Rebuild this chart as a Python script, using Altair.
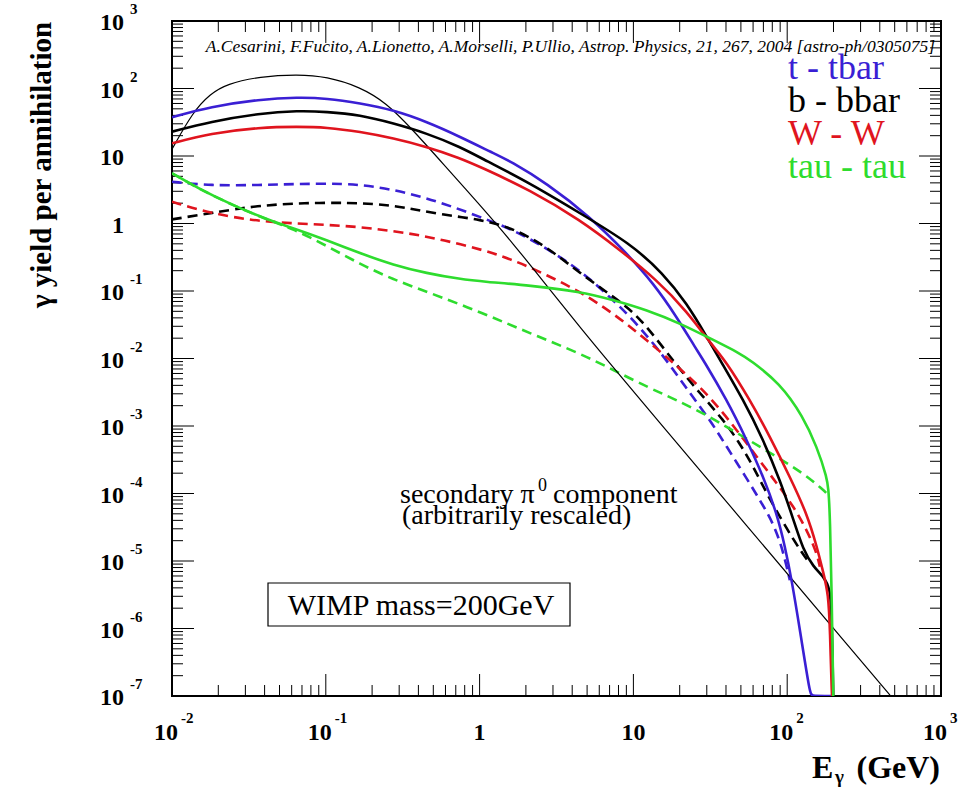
import altair as alt
import pandas as pd

# ---------------------------------------------------------------------------
# Gamma-ray yield per annihilation for a 200 GeV WIMP, E in GeV
# ---------------------------------------------------------------------------
# t - tbar, total and secondary pi0 component
tt_E = [0.01, 0.0177, 0.0373, 0.066, 0.101, 0.167, 0.275, 0.453, 0.746, 1.23, 1.58,
        2.73, 5.22, 9.04, 13.5, 19.1, 25.8, 28.5, 40.5, 54.6, 70.0, 85.5, 96.8, 107,
        121, 141, 145, 200]
tt_y = [37.4, 53.7, 69.2, 74.1, 71.7, 60.4, 48.0, 32.2, 19.3, 11.0, 8.4,
        3.94, 1.26, 0.362, 0.130, 0.0416, 0.0134, 0.0095, 0.00243, 6.2e-4, 1.77e-4,
        5.1e-5, 1.63e-5, 5.2e-6, 9.5e-7, 1.03e-7, 1e-7, 1e-7]
tt_pi_E = [0.01, 0.0177, 0.0373, 0.066, 0.130, 0.214, 0.352, 0.581, 1.01, 1.66, 2.73,
           4.50, 7.40, 11.0, 16.6, 23.3, 31.5, 40.5, 51.9, 66.5, 81.3, 92.1, 99.3, 104]
tt_pi_y = [4.16, 3.63, 3.72, 3.85, 3.94, 3.51, 2.80, 1.99, 1.25, 0.802, 0.429,
           0.205, 0.0736, 0.0296, 0.0092, 0.00305, 0.00123, 4.9e-4, 2.0e-4, 8.0e-5,
           3.6e-5, 1.63e-5, 8.2e-6, 5.2e-6]

# b - bbar
bb_E = [0.01, 0.0177, 0.0373, 0.066, 0.101, 0.167, 0.275, 0.453, 0.746, 1.08, 2.13,
        4.50, 9.51, 15.6, 22.2, 30.0, 36.6, 51.9, 70.0, 89.7, 110, 127, 148, 172,
        190, 194.5, 199.5, 200]
bb_y = [22.9, 32.2, 43.0, 46.9, 45.3, 40.5, 30.5, 21.7, 13.7, 8.73, 3.94,
        1.42, 0.509, 0.183, 0.0658, 0.0210, 0.0095, 0.00243, 6.2e-4, 1.58e-4,
        4.05e-5, 1.46e-5, 8.2e-6, 5.9e-6, 4.0e-6, 1.68e-6, 1.03e-7, 5e-8]
bb_pi_E = [0.01, 0.0177, 0.0373, 0.0916, 0.214, 0.352, 0.581, 1.01, 1.66, 2.73, 4.50,
           7.40, 11.0, 18.6, 27.1, 38.5, 49.3, 60.2, 73.6, 89.7, 110, 134, 141]
bb_pi_y = [1.15, 1.42, 1.88, 2.06, 1.99, 1.68, 1.34, 1.15, 0.849, 0.453, 0.183,
           0.0824, 0.0416, 0.0085, 0.00305, 0.00123, 5.5e-4, 2.5e-4, 1.0e-4, 4.5e-5,
           2.05e-5, 1.04e-5, 9.3e-6]

# W - W
ww_E = [0.01, 0.0177, 0.0373, 0.066, 0.101, 0.167, 0.275, 0.453, 0.746, 1.01, 2.13,
        4.50, 8.18, 14.2, 22.2, 33.1, 39.4, 57.3, 77.3, 104, 134, 156, 172, 185,
        190, 194.5, 200]
ww_y = [15.4, 21.7, 26.6, 27.2, 26.6, 22.9, 18.3, 13.7, 9.3, 6.9, 3.13,
        1.13, 0.405, 0.146, 0.0506, 0.0148, 0.0095, 0.00243, 6.9e-4, 1.77e-4,
        5.1e-5, 1.63e-5, 6.6e-6, 3.3e-6, 9.5e-7, 1.03e-7, 5e-8]
ww_pi_E = [0.01, 0.0177, 0.0373, 0.0789, 0.167, 0.352, 0.581, 1.06, 1.66, 2.73, 4.50,
           7.40, 12.2, 20.6, 31.5, 47.0, 63.4, 85.5, 110, 134, 156, 163]
ww_pi_y = [2.10, 1.42, 1.06, 0.984, 0.898, 0.716, 0.570, 0.405, 0.288, 0.173, 0.0977,
           0.0468, 0.0188, 0.00676, 0.00272, 8.7e-4, 3.5e-4, 1.42e-4, 6.4e-5, 2.9e-5,
           1.3e-5, 8.2e-6]

# tau - tau
tau_E = [0.01, 0.0152, 0.0251, 0.0413, 0.0615, 0.101, 0.167, 0.275, 0.453, 0.746, 1.08,
         2.13, 4.50, 7.40, 12.2, 20.1, 33.1, 49.3, 57.3, 89.7, 127, 156, 181, 190,
         199.5, 200]
tau_y = [5.55, 3.2, 1.85, 1.15, 0.85, 0.57, 0.362, 0.243, 0.183, 0.150, 0.137,
         0.121, 0.0977, 0.0736, 0.0524, 0.0332, 0.0188, 0.0119, 0.0095, 0.0043,
         0.00137, 4.9e-4, 1.77e-4, 9.0e-5, 1.03e-7, 5e-8]
tau_pi_E = [0.01, 0.0152, 0.0251, 0.0413, 0.0615, 0.101, 0.167, 0.275, 0.453, 1.057,
            2.13, 4.50, 7.40, 12.8, 19.1, 31.5, 51.9, 85.5, 127, 172, 181]
tau_pi_y = [5.55, 3.2, 1.85, 1.15, 0.83, 0.47, 0.25, 0.148, 0.0977, 0.0468,
            0.0236, 0.0119, 0.00676, 0.00362, 0.00243, 0.00137, 6.9e-4, 3.5e-4,
            2.0e-4, 1.13e-4, 1.0e-4]

# secondary pi0 component (arbitrarily rescaled)
pi0_E = [0.01, 0.0137, 0.0177, 0.0227, 0.0373, 0.066, 0.101, 0.167, 0.249, 0.352,
         0.581, 1.0, 1.66, 2.73, 4.5, 8.43, 466]
pi0_y = [12.6, 45.3, 83, 117, 151, 162, 150, 106, 60.4, 27.2,
         7.6, 1.9, 0.50, 0.12, 0.029, 0.0051, 1.03e-7]

channels = ["tt", "bb", "ww", "tau"]
legend_labels = ["t - tbar", "b - bbar", "W - W", "tau - tau"]

# tick values and labels
x_major = [1e-2, 1e-1, 1, 10, 100, 1000]
y_major = [1e-7, 1e-6, 1e-5, 1e-4, 1e-3, 1e-2, 1e-1, 1, 10, 100, 1000]
x_minor = [m * 10.0 ** p for p in range(-2, 3) for m in range(2, 10)]
y_minor = [m * 10.0 ** p for p in range(-7, 3) for m in range(2, 10)]
x_pow_vals = [1e-2, 1e-1, 100, 1000]
x_pow_exps = ["-2", "-1", "2", "3"]
x_plain_vals = [1, 10]
x_plain_text = ["1", "10"]
y_pow_vals = [1e-7, 1e-6, 1e-5, 1e-4, 1e-3, 1e-2, 1e-1, 100, 1000]
y_pow_exps = ["-7", "-6", "-5", "-4", "-3", "-2", "-1", "2", "3"]
y_plain_vals = [1, 10]
y_plain_text = ["1", "10"]

# ---------------------------------------------------------------------------
W, H = 769, 675
SERIF = "Liberation Serif, Times New Roman, Times, DejaVu Serif, serif"
BLUE, BLACK, RED, GREEN = "#3a1fd4", "#000000", "#e0141e", "#2edc2e"
COLORS = [BLUE, BLACK, RED, GREEN]


def curve(name, E, y):
    return pd.DataFrame({"E": E, "y": y, "curve": name})


solid = pd.concat([curve("tt", tt_E, tt_y), curve("bb", bb_E, bb_y),
                   curve("ww", ww_E, ww_y), curve("tau", tau_E, tau_y)])
dashed = pd.concat([curve("tt", tt_pi_E, tt_pi_y), curve("bb", bb_pi_E, bb_pi_y),
                    curve("ww", ww_pi_E, ww_pi_y), curve("tau", tau_pi_E, tau_pi_y)])
pi0 = curve("pi0", pi0_E, pi0_y)

xs = alt.Scale(type="log", domain=[1e-2, 1e3], nice=False)
ys = alt.Scale(type="log", domain=[1e-7, 1e3], nice=False)
X = alt.X("E:Q", scale=xs, axis=None)
Y = alt.Y("y:Q", scale=ys, axis=None)
color = alt.Color("curve:N", scale=alt.Scale(domain=channels, range=COLORS), legend=None)

dashed_layer = alt.Chart(dashed).mark_line(
    clip=True, strokeWidth=2.6, strokeDash=[10, 6], interpolate="basis"
).encode(x=X, y=Y, color=color, detail="curve:N")

pi0_layer = alt.Chart(pi0).mark_line(
    clip=True, strokeWidth=1.2, color="black", interpolate="basis"
).encode(x=X, y=Y)

solid_layer = alt.Chart(solid).mark_line(
    clip=True, strokeWidth=2.6, interpolate="basis"
).encode(x=X, y=Y, color=color, detail="curve:N")


# inward ticks on all four sides
def x_ticks(vals, length):
    base = alt.Chart(pd.DataFrame({"v": vals})).encode(
        x=alt.X("v:Q", scale=xs, axis=None))
    bottom = base.mark_rule(color="black", strokeWidth=1).encode(
        y=alt.value(H), y2=alt.value(H - length))
    top = base.mark_rule(color="black", strokeWidth=1).encode(
        y=alt.value(0), y2=alt.value(length))
    return [bottom, top]


def y_ticks(vals, length):
    base = alt.Chart(pd.DataFrame({"v": vals})).encode(
        y=alt.Y("v:Q", scale=ys, axis=None))
    left = base.mark_rule(color="black", strokeWidth=1).encode(
        x=alt.value(0), x2=alt.value(length))
    right = base.mark_rule(color="black", strokeWidth=1).encode(
        x=alt.value(W), x2=alt.value(W - length))
    return [left, right]


ticks = x_ticks(x_major, 22) + x_ticks(x_minor, 11) + y_ticks(y_major, 22) + y_ticks(y_minor, 11)

# tick labels: ROOT-style "10" with a raised exponent
LAB = dict(font=SERIF, fontWeight="bold", fontSize=24, baseline="alphabetic", color="black")
EXP = dict(font=SERIF, fontWeight="bold", fontSize=15, baseline="alphabetic", color="black")

xpow = pd.DataFrame({"v": x_pow_vals, "base": ["10"] * len(x_pow_vals), "exp": x_pow_exps})
xplain = pd.DataFrame({"v": x_plain_vals, "t": x_plain_text})
ypow = pd.DataFrame({"v": y_pow_vals, "base": ["10"] * len(y_pow_vals), "exp": y_pow_exps})
yplain = pd.DataFrame({"v": y_plain_vals, "t": y_plain_text})

XV = alt.X("v:Q", scale=xs, axis=None)
YV = alt.Y("v:Q", scale=ys, axis=None)

labels = [
    alt.Chart(xpow).mark_text(align="right", dx=6, **LAB).encode(x=XV, y=alt.value(H + 44), text="base:N"),
    alt.Chart(xpow).mark_text(align="left", dx=9, **EXP).encode(x=XV, y=alt.value(H + 27), text="exp:N"),
    alt.Chart(xplain).mark_text(align="center", **LAB).encode(x=XV, y=alt.value(H + 44), text="t:N"),
    alt.Chart(ypow).mark_text(align="right", dy=9, **LAB).encode(y=YV, x=alt.value(-48), text="base:N"),
    alt.Chart(ypow).mark_text(align="left", dy=-7, **EXP).encode(y=YV, x=alt.value(-42), text="exp:N"),
    alt.Chart(yplain).mark_text(align="right", dy=9, **LAB).encode(y=YV, x=alt.value(-48), text="t:N"),
]


def note(text, x, y, **style):
    return alt.Chart(pd.DataFrame({"t": [text]})).mark_text(**style).encode(
        x=alt.value(x), y=alt.value(y), text="t:N")


TITLE = dict(font=SERIF, fontWeight="bold", color="black")
PLAIN = dict(font=SERIF, fontWeight="normal", color="black", baseline="alphabetic")
notes = [
    note("\u03b3 yield per annihilation", -130, 144, angle=270, align="center",
         baseline="middle", fontSize=29, **TITLE),
    note("E", 640, H + 82, align="left", baseline="alphabetic", fontSize=32, **TITLE),
    note("\u03b3", 663, H + 87, align="left", baseline="alphabetic", fontSize=19, **TITLE),
    note("(GeV)", 768, H + 82, align="right", baseline="alphabetic", fontSize=32, **TITLE),
    note("A.Cesarini, F.Fucito, A.Lionetto, A.Morselli, P.Ullio, Astrop. Physics, 21, 267, 2004 [astro-ph/0305075]",
         763, 31, align="right", fontStyle="italic", fontSize=17.5, **PLAIN),
    note("secondary \u03c0", 228, 482, align="left", fontSize=28, **PLAIN),
    note("0", 366, 470, align="left", fontSize=18, **PLAIN),
    note("component", 381, 482, align="left", fontSize=28, **PLAIN),
    note("(arbitrarily rescaled)", 230, 503, align="left", fontSize=28, **PLAIN),
]

for i, (lab, col) in enumerate(zip(legend_labels, COLORS)):
    notes.append(note(lab, 616, 58 + 33 * i, align="left", font=SERIF,
                      fontWeight="normal", baseline="alphabetic", fontSize=36, color=col))

box = alt.Chart(pd.DataFrame({"t": ["WIMP mass=200GeV"]})).mark_rect(
    fill="white", stroke="black", strokeWidth=1.2
).encode(x=alt.value(96), x2=alt.value(398), y=alt.value(562), y2=alt.value(605))
box_text = note("WIMP mass=200GeV", 249, 594, align="center", fontSize=30, **PLAIN)

chart = alt.layer(
    *ticks, dashed_layer, pi0_layer, solid_layer, box, box_text, *labels, *notes
).properties(
    width=W, height=H,
    autosize=alt.AutoSizeParams(type="none"),
    padding={"left": 172, "top": 21, "right": 34, "bottom": 93},
    background="white",
).configure_view(stroke="black", strokeWidth=2)

chart.save("out.html", embed_options={"renderer": "svg", "actions": False})
